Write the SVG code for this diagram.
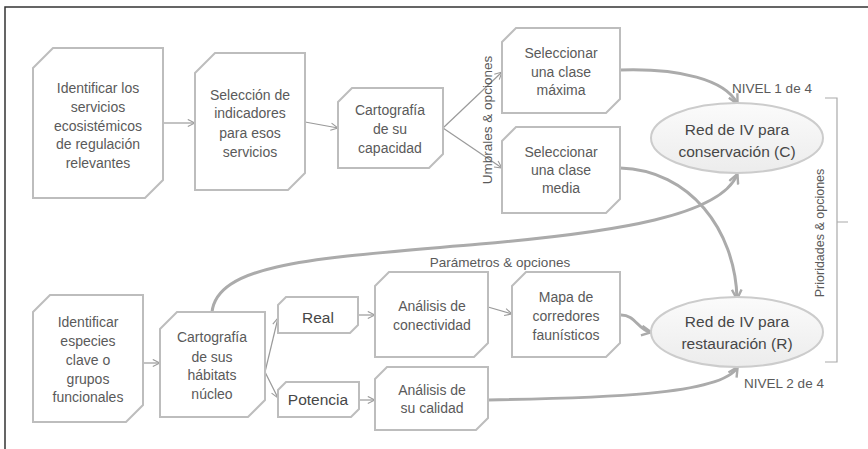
<svg xmlns="http://www.w3.org/2000/svg" width="868" height="449" viewBox="0 0 868 449">
<defs>
<style>
.node{fill:#fff;stroke:#bdbdbd;stroke-width:2}
.t{font-family:"Liberation Sans",Arial,sans-serif;font-size:14px;fill:#5a5a5a;text-anchor:middle}
.tb{font-family:"Liberation Sans",Arial,sans-serif;font-size:15.5px;fill:#474747;text-anchor:middle}
.lab{font-family:"Liberation Sans",Arial,sans-serif;font-size:13.5px;fill:#5a5a5a;text-anchor:middle}
.thin{fill:none;stroke:#9a9a9a;stroke-width:1.2;marker-end:url(#openArrow)}
.thick{fill:none;stroke:#ababab;stroke-width:3;marker-end:url(#thickArrow)}
.ell{fill:url(#ellGrad);stroke:#cccccc;stroke-width:2}
</style>
<linearGradient id="ellGrad" x1="0" y1="0" x2="0" y2="1">
<stop offset="0" stop-color="#fbfbfb"/>
<stop offset="1" stop-color="#ececec"/>
</linearGradient>
<marker id="openArrow" viewBox="0 0 10 10" refX="9" refY="5" markerWidth="9" markerHeight="9" markerUnits="userSpaceOnUse" orient="auto">
<path d="M1,1 L9,5 L1,9" fill="none" stroke="#9a9a9a" stroke-width="1.2"/>
</marker>
<marker id="thickArrow" viewBox="0 0 10 10" refX="8" refY="5" markerWidth="12" markerHeight="12" markerUnits="userSpaceOnUse" orient="auto">
<path d="M1,1 L9,5 L1,9" fill="none" stroke="#ababab" stroke-width="2"/>
</marker>
</defs>
<rect width="868" height="449" fill="#fff"/>
<path d="M5,449 L5,7 L868,7" fill="none" stroke="#333" stroke-width="1.5"/>

<g id="connectors">
<path class="thin" d="M163,123 L195,123"/>
<path class="thin" d="M305,122 L338,128"/>
<path class="thin" d="M443,128 L502,72"/>
<path class="thin" d="M443,128 L502,168"/>
<path class="thin" d="M143,363 L160,363"/>
<path class="thin" d="M265,372 L278,318"/>
<path class="thin" d="M265,372 L278,398"/>
<path class="thin" d="M358,315 L375,315"/>
<path class="thin" d="M359,400 L375,400"/>
<path class="thin" d="M488,307 L512,314"/>
<path class="thick" d="M620,70 C680,68 725,80 737,103"/>
<path class="thick" d="M620,168 C690,170 735,230 737,298"/>
<path class="thick" d="M212,312 C218,262 320,258 480,244 C620,232 720,215 737,175"/>
<path class="thick" d="M620,315 C635,314 638,330 650,332"/>
<path class="thick" d="M488,400 C600,398 720,395 737,368"/>
</g>

<g id="n1">
<path class="node" d="M33,68 L53,48 L163,48 L163,180 L145,198 L33,198 Z"/>
<text class="t"><tspan x="98" y="93">Identificar los</tspan><tspan x="98" y="112">servicios</tspan><tspan x="98" y="131">ecosistémicos</tspan><tspan x="98" y="149">de regulación</tspan><tspan x="98" y="168">relevantes</tspan></text>
</g>
<g id="n2">
<path class="node" d="M195,73 L215,53 L305,53 L305,173 L288,190 L195,190 Z"/>
<text class="t"><tspan x="250" y="100">Selección de</tspan><tspan x="250" y="118">indicadores</tspan><tspan x="250" y="138">para esos</tspan><tspan x="250" y="157">servicios</tspan></text>
</g>
<g id="n3">
<path class="node" d="M338,102 L352,88 L443,88 L443,154 L429,168 L338,168 Z"/>
<text class="t"><tspan x="390" y="115">Cartografía</tspan><tspan x="390" y="134">de su</tspan><tspan x="390" y="153">capacidad</tspan></text>
</g>
<g id="n4">
<path class="node" d="M502,42 L516,28 L620,28 L620,99 L606,113 L502,113 Z"/>
<text class="t"><tspan x="561" y="58">Seleccionar</tspan><tspan x="561" y="77">una clase</tspan><tspan x="561" y="95">máxima</tspan></text>
</g>
<g id="n5">
<path class="node" d="M502,141 L516,127 L620,127 L620,199 L606,213 L502,213 Z"/>
<text class="t"><tspan x="561" y="157">Seleccionar</tspan><tspan x="561" y="175">una clase</tspan><tspan x="561" y="193">media</tspan></text>
</g>
<g id="n6">
<path class="node" d="M33,312 L50,295 L143,295 L143,405 L126,422 L33,422 Z"/>
<text class="t"><tspan x="88" y="327">Identificar</tspan><tspan x="88" y="346">especies</tspan><tspan x="88" y="365">clave o</tspan><tspan x="88" y="384">grupos</tspan><tspan x="88" y="402">funcionales</tspan></text>
</g>
<g id="n7">
<path class="node" d="M160,329 L177,312 L265,312 L265,400 L248,417 L160,417 Z"/>
<text class="t"><tspan x="212" y="342">Cartografía</tspan><tspan x="212" y="362">de sus</tspan><tspan x="212" y="380">hábitats</tspan><tspan x="212" y="399">núcleo</tspan></text>
</g>
<g id="n8">
<path class="node" d="M278,305 L286,297 L358,297 L358,325 L350,333 L278,333 Z"/>
<text class="tb" x="318" y="323">Real</text>
</g>
<g id="n9">
<path class="node" d="M278,390 L286,382 L359,382 L359,409 L351,417 L278,417 Z"/>
<text class="tb" x="318" y="405">Potencia</text>
</g>
<g id="n10">
<path class="node" d="M375,286 L389,272 L488,272 L488,343 L474,357 L375,357 Z"/>
<text class="t"><tspan x="432" y="311">Análisis de</tspan><tspan x="432" y="330">conectividad</tspan></text>
</g>
<g id="n11">
<path class="node" d="M375,379 L387,367 L488,367 L488,418 L476,430 L375,430 Z"/>
<text class="t"><tspan x="432" y="395">Análisis de</tspan><tspan x="432" y="413">su calidad</tspan></text>
</g>
<g id="n12">
<path class="node" d="M512,286 L526,272 L620,272 L620,343 L606,357 L512,357 Z"/>
<text class="t"><tspan x="566" y="302">Mapa de</tspan><tspan x="566" y="321">corredores</tspan><tspan x="566" y="340">faunísticos</tspan></text>
</g>
<g id="ellC">
<ellipse class="ell" cx="737" cy="138" rx="86" ry="35"/>
<text class="tb"><tspan x="737" y="135">Red de IV para</tspan><tspan x="737" y="157">conservación (C)</tspan></text>
</g>
<g id="ellR">
<ellipse class="ell" cx="737" cy="332" rx="86" ry="35"/>
<text class="tb"><tspan x="737" y="327">Red de IV para</tspan><tspan x="737" y="349">restauración (R)</tspan></text>
</g>

<g id="labels">
<text class="lab" x="772" y="93">NIVEL 1 de 4</text>
<text class="lab" x="784" y="388">NIVEL 2 de 4</text>
<text class="lab" x="500" y="267">Parámetros &amp; opciones</text>
<text class="lab" transform="translate(492,120) rotate(-90)">Umbrales &amp; opciones</text>
<text class="lab" style="font-size:12.5px" transform="translate(824,233) rotate(-90)">Prioridades &amp; opciones</text>
<path d="M825,98 L837,98 L837,362 L825,362 M837,222 L848,222" fill="none" stroke="#aaa" stroke-width="1.2"/>
</g>
</svg>
